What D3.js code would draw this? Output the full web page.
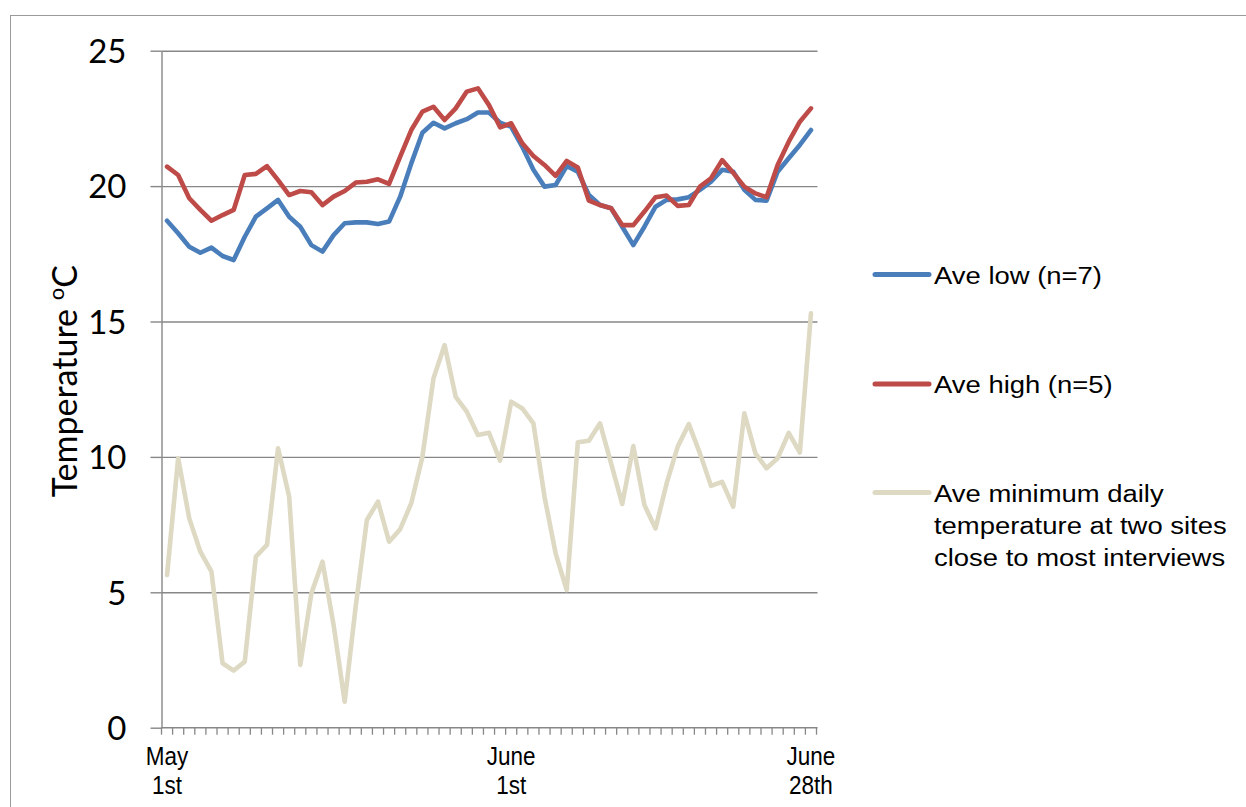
<!DOCTYPE html>
<html>
<head>
<meta charset="utf-8">
<script src="https://cdn.jsdelivr.net/npm/d3@7"></script>
<style>
  html, body { margin: 0; padding: 0; background: #ffffff; }
  svg { display: block; }
</style>
</head>
<body>
<svg id="chart" width="1246" height="807"></svg>
<script>
// ---------------- DATA ----------------
const seriesNames = ["Ave low (n=7)", "Ave high (n=5)", "Ave minimum daily temperature at two sites close to most interviews"];
const legendLines = [["Ave low (n=7)"], ["Ave high (n=5)"], ["Ave minimum daily", "temperature at two sites", "close to most interviews"]];
const seriesColors = ["#4a7ebb", "#be4b48", "#ddd9c3"];

// one category per day, May 1st .. June 28th
const categories = d3.timeDay.range(new Date(2012, 4, 1), new Date(2012, 5, 29)).map(d3.timeFormat("%b %d"));

const aveLow = [18.72,18.26,17.76,17.54,17.73,17.42,17.27,18.13,18.87,19.18,19.49,18.87,18.5,17.82,17.58,18.19,18.63,18.66,18.66,
  18.6,18.69,19.61,20.84,21.97,22.34,22.13,22.32,22.47,22.72,22.72,22.34,22.19,21.45,20.6,19.98,20.04,
  20.74,20.53,19.67,19.3,19.18,18.5,17.82,18.5,19.24,19.49,19.51,19.59,19.86,20.16,20.6,20.53,19.86,19.49,19.46,20.53,21.03,21.52,22.07];

const aveHigh = [20.72,20.41,19.55,19.12,18.72,18.93,19.12,20.41,20.45,20.74,20.22,19.67,19.82,19.77,19.3,19.61,19.82,20.13,20.16,
  20.25,20.08,21.09,22.07,22.75,22.93,22.44,22.87,23.49,23.61,22.99,22.17,22.32,21.58,21.11,20.78,20.38,
  20.93,20.69,19.46,19.3,19.18,18.56,18.56,19.06,19.59,19.65,19.27,19.3,19.98,20.29,20.96,20.49,19.98,19.73,19.59,20.78,21.64,22.38,22.87];

const aveMin = [5.64,9.95,7.73,6.5,5.76,2.38,2.11,2.44,6.32,6.75,10.32,8.53,2.32,4.96,6.13,3.8,0.96,4.5,7.67,
  8.35,6.87,7.33,8.29,10.0,12.9,14.13,12.22,11.67,10.81,10.89,9.86,12.04,11.79,11.24,8.53,6.44,
  5.08,10.54,10.6,11.24,9.76,8.26,10.4,8.22,7.36,9.02,10.38,11.21,10.13,8.93,9.08,8.16,11.61,10.13,9.58,9.95,10.89,10.16,15.3];

const yTicks = [0, 5, 10, 15, 20, 25];
const xLabelCats = [categories[0], categories[31], categories[58]];
const xLabelLines = [["May", "1st"], ["June", "1st"], ["June", "28th"]];
const yTitle = "Temperature ";
const yTitleSup = "o";
const yTitleEnd = "C";

// ---------------- LAYOUT ----------------
const svg = d3.select("#chart");
const plotLeft = 161.5, plotRight = 816.5, plotTop = 50.7, plotBottom = 727.7;

const x = d3.scaleBand().domain(categories).range([plotLeft, plotRight]).padding(0);
const y = d3.scaleLinear().domain([0, 25]).range([plotBottom, plotTop]);
const cx = c => x(c) + x.bandwidth() / 2;

// outer chart border
svg.append("rect")
  .attr("x", 10.5).attr("y", 15.5)
  .attr("width", 1300).attr("height", 900)
  .attr("fill", "none").attr("stroke", "#9a9a9a").attr("stroke-width", 1);

// gridlines
const grid = svg.append("g").attr("transform", `translate(${plotLeft},0)`)
  .call(d3.axisLeft(y).tickValues(yTicks.filter(t => t > 0)).tickSize(-(plotRight - plotLeft + 1)).tickFormat(""));
grid.select(".domain").remove();
grid.selectAll("line").attr("stroke", "#878787").attr("stroke-width", 1.4);

// y axis
const yAxis = svg.append("g").attr("transform", `translate(${plotLeft},0)`)
  .call(d3.axisLeft(y).tickValues(yTicks).tickSize(11).tickPadding(24).tickSizeOuter(0));
yAxis.select(".domain").attr("stroke", "#878787").attr("stroke-width", 1.4);
yAxis.selectAll("line").attr("stroke", "#878787").attr("stroke-width", 1.4);
yAxis.selectAll("text")
  .attr("font-family", "Lato, 'Open Sans', sans-serif")
  .attr("font-size", 33)
  .attr("fill", "#000")
  .attr("dy", "0.36em");

// x axis line
svg.append("line")
  .attr("x1", plotLeft).attr("x2", plotRight + 1)
  .attr("y1", plotBottom).attr("y2", plotBottom)
  .attr("stroke", "#878787").attr("stroke-width", 1.4);

// x minor ticks at category boundaries
const boundaries = categories.map(c => x(c)).concat([x(categories[categories.length - 1]) + x.bandwidth()]);
svg.append("g").selectAll("line").data(boundaries).join("line")
  .attr("x1", d => d).attr("x2", d => d)
  .attr("y1", plotBottom).attr("y2", plotBottom + 7)
  .attr("stroke", "#878787").attr("stroke-width", 1.3);

// x labels
const xl = svg.append("g").selectAll("g").data(xLabelCats).join("g")
  .attr("transform", d => `translate(${cx(d)},0)`);
xl.each(function(d, i) {
  xLabelLines[i].forEach((ln, j) => {
    d3.select(this).append("text")
      .attr("transform", `translate(0,${765 + j * 29}) scale(0.9,1)`)
      .attr("text-anchor", "middle")
      .attr("font-family", "'Liberation Sans', Arial, sans-serif")
      .attr("font-size", 25)
      .attr("fill", "#000")
      .text(ln);
  });
});

// y axis title
const yt = svg.append("text")
  .attr("transform", `translate(77,${(plotTop + plotBottom) / 2 - 8}) rotate(-90)`)
  .attr("text-anchor", "middle")
  .attr("font-family", "Lato, 'Open Sans', sans-serif")
  .attr("font-size", 34)
  .attr("fill", "#000");
yt.append("tspan").text(yTitle);
yt.append("tspan").attr("font-size", 22).attr("dy", -13).text(yTitleSup);
yt.append("tspan").attr("dy", 13).text(yTitleEnd);

// lines
const allSeries = [aveLow, aveHigh, aveMin];
const line = d3.line().x((d, i) => cx(categories[i])).y(d => y(d));
svg.append("g").selectAll("path").data(allSeries).join("path")
  .attr("d", d => line(d))
  .attr("fill", "none")
  .attr("stroke", (d, i) => seriesColors[i])
  .attr("stroke-width", 4.6)
  .attr("stroke-linejoin", "round")
  .attr("stroke-linecap", "round");

// legend
const legendY = [274.5, 384, 492.5];
const lg = svg.append("g").selectAll("g").data(seriesNames).join("g");
lg.append("line")
  .attr("x1", 875).attr("x2", 929)
  .attr("y1", (d, i) => legendY[i]).attr("y2", (d, i) => legendY[i])
  .attr("stroke", (d, i) => seriesColors[i])
  .attr("stroke-width", 5)
  .attr("stroke-linecap", "round");
lg.each(function(d, i) {
  legendLines[i].forEach((ln, j) => {
    d3.select(this).append("text")
      .attr("transform", `translate(934,${legendY[i] + 9 + j * 32}) scale(1.12,1)`)
      .attr("font-family", "'Liberation Sans', Arial, sans-serif")
      .attr("font-size", 24.5)
      .attr("fill", "#000")
      .text(ln);
  });
});
</script>
</body>
</html>
